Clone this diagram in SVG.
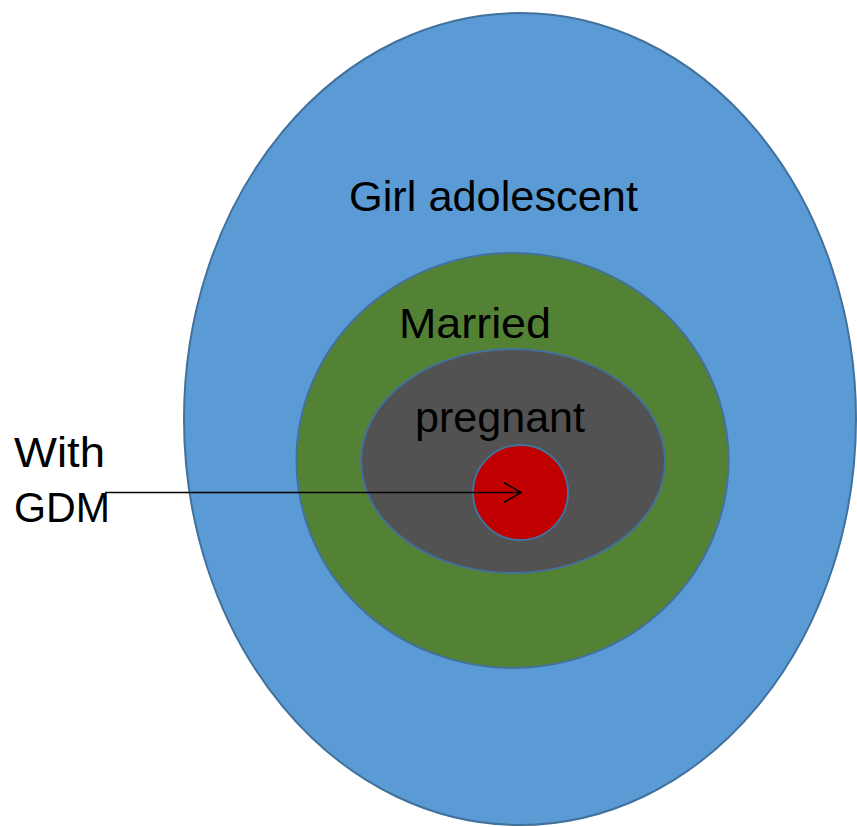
<svg xmlns="http://www.w3.org/2000/svg" width="857" height="827" viewBox="0 0 857 827">
<style>
.sh{stroke:#41719C;stroke-width:2}
.t{font-family:"Liberation Sans",Arial,sans-serif;font-size:42px;fill:#000}
</style>
<defs>
<marker id="arr" markerWidth="20" markerHeight="24" refX="18" refY="11" orient="auto" markerUnits="userSpaceOnUse">
<path d="M1,1 L18,11 L1,21" fill="none" stroke="#000" stroke-width="1.5"/>
</marker>
</defs>
<rect width="857" height="827" fill="#fff"/>
<g id="girl-adolescent">
<ellipse class="sh" cx="520" cy="419" rx="336" ry="406" fill="#5B9BD5"/>
<text class="t" x="349" y="211" textLength="289" lengthAdjust="spacingAndGlyphs">Girl adolescent</text>
</g>
<g id="married">
<ellipse class="sh" cx="512.5" cy="460.5" rx="216" ry="207.5" fill="#548235"/>
<text class="t" x="399" y="338" textLength="152" lengthAdjust="spacingAndGlyphs">Married</text>
</g>
<g id="pregnant">
<ellipse class="sh" cx="513" cy="461" rx="152" ry="112" fill="#525252"/>
<text class="t" x="415" y="432" textLength="170" lengthAdjust="spacingAndGlyphs">pregnant</text>
</g>
<g id="gdm">
<circle class="sh" cx="520.5" cy="492.5" r="47.5" fill="#C00000"/>
</g>
<g id="label-gdm">
<text class="t" x="14" y="467" textLength="91" lengthAdjust="spacingAndGlyphs">With</text>
<text class="t" x="14" y="522" textLength="96" lengthAdjust="spacingAndGlyphs">GDM</text>
</g>
<g id="connectors">
<line x1="105" y1="492.5" x2="521" y2="492.5" stroke="#000" stroke-width="1.3" marker-end="url(#arr)"/>
</g>
</svg>
